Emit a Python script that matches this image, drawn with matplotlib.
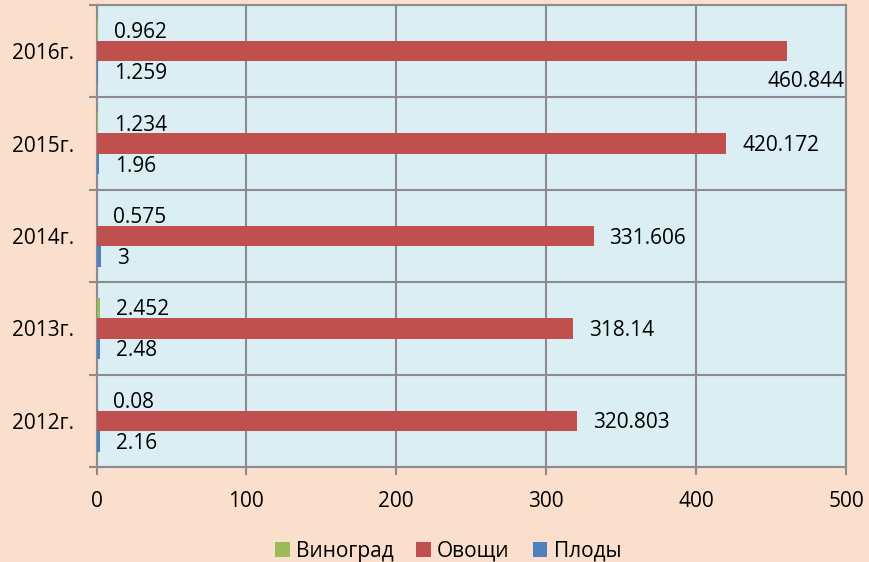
import numpy as np
import matplotlib
matplotlib.use("Agg")
import matplotlib.pyplot as plt

# Производство по годам (тыс. т)
years = ["2012г.", "2013г.", "2014г.", "2015г.", "2016г."]
grapes = [0.08, 2.452, 0.575, 1.234, 0.962]
vegetables = [320.803, 318.14, 331.606, 420.172, 460.844]
fruits = [2.16, 2.48, 3, 1.96, 1.259]
series_names = ["Виноград", "Овощи", "Плоды"]
x_ticks = [0, 100, 200, 300, 400, 500]

colors = ["#9BBB59", "#C0504D", "#4F81BD"]
fig_bg = "#F9DFCC"
plot_bg = "#DBEEF4"
grid_col = "#8C8C8C"

plt.rcParams["font.family"] = ["Open Sans", "DejaVu Sans"]
FS = 15

fig = plt.figure(figsize=(8.69, 5.62), dpi=100, facecolor=fig_bg)
ax = fig.add_axes([96.5 / 869, 1 - 467 / 562, (846 - 96.5) / 869, (467 - 5) / 562])
ax.set_facecolor(plot_bg)

y = np.arange(len(years))
h = 0.222
offsets = [h, 0, -h]
all_series = [grapes, vegetables, fruits]

for vals, off, col, name in zip(all_series, offsets, colors, series_names):
    ax.barh(y + off, vals, height=h, color=col, label=name, zorder=3)
    for yi, v in zip(y, vals):
        if v > 450:
            # не помещается справа от столбца — подпись под ним у правого края
            ax.annotate(f"{v:g}", xy=(1, yi + off - h * 1.5),
                        xycoords=("axes fraction", "data"),
                        xytext=(-1, 0), textcoords="offset points",
                        ha="right", va="center", fontsize=FS, zorder=4)
        else:
            ax.annotate(f"{v:g}", xy=(v, yi + off), xytext=(11.5, -1.5),
                        textcoords="offset points", ha="left", va="center",
                        fontsize=FS, zorder=4)

ax.set_xlim(0, 500)
ax.set_ylim(-0.5, len(years) - 0.5)
ax.set_xticks(x_ticks)
ax.set_xticklabels([str(t) for t in x_ticks], fontsize=FS)

# подписи категорий по центру, деления — на границах категорий
ax.set_yticks(y)
ax.set_yticklabels(years, fontsize=FS)
ax.set_yticks(np.arange(len(years) + 1) - 0.5, minor=True)
ax.tick_params(axis="y", which="major", length=0, pad=16)
ax.tick_params(axis="y", which="minor", length=6, width=1.5, color=grid_col)
ax.tick_params(axis="x", which="major", length=6, width=1.5, color=grid_col, pad=11)

ax.grid(axis="x", which="major", color=grid_col, linewidth=1.5, zorder=1)
ax.grid(axis="y", which="minor", color=grid_col, linewidth=1.5, zorder=1)
ax.set_axisbelow(True)
for s in ax.spines.values():
    s.set_color(grid_col)
    s.set_linewidth(1.5)

fig.legend(loc="center", bbox_to_anchor=(448 / 869, 1 - 551 / 562), ncol=3,
           frameon=False, fontsize=FS, handlelength=0.7, handleheight=0.7,
           handletextpad=0.3, columnspacing=1.1, borderpad=0)

fig.savefig("out.png", dpi=100, facecolor=fig_bg)
